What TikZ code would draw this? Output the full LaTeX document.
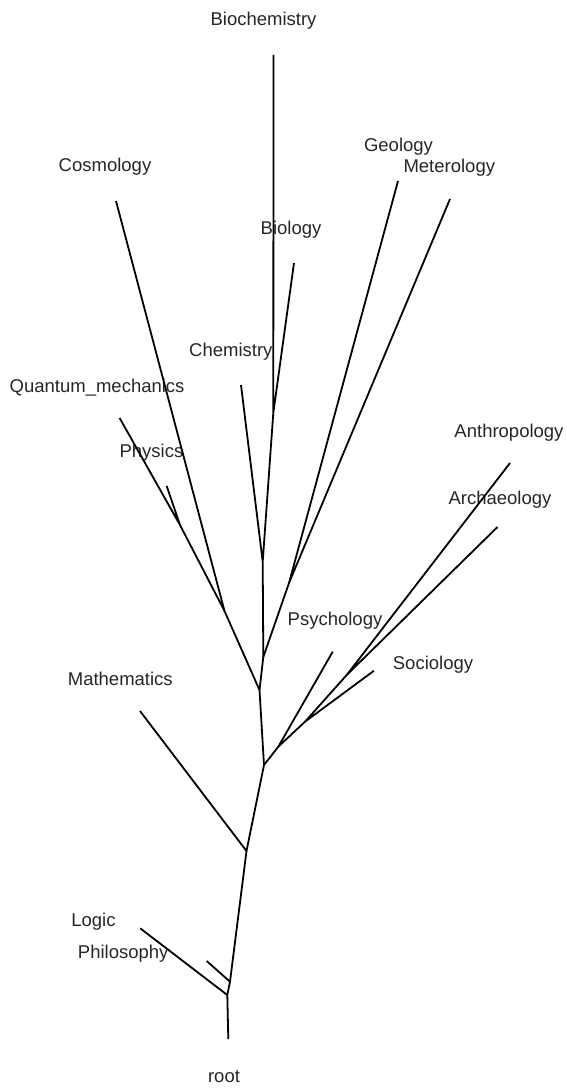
\documentclass[tikz,border=0pt]{standalone}
\usepackage{fontspec}
\setmainfont{Liberation Sans}

\begin{document}
\begin{tikzpicture}[x=1pt,y=-1pt,line width=1.8pt,
  lbl/.style={anchor=base,inner sep=0pt,font=\fontsize{18.5}{22}\selectfont,text=black!85}]
\useasboundingbox (0,0) rectangle (566,1089);
% tips
\coordinate (root) at (228.3,1039);\coordinate (logic) at (140.2,928.3);
\coordinate (philo) at (206.7,961);\coordinate (math) at (140,711);
\coordinate (psych) at (332.7,651.7);\coordinate (socio) at (374,670.7);
\coordinate (anthro) at (510,463);\coordinate (archaeo) at (497.5,527);
\coordinate (cosmo) at (116,201);\coordinate (quantum) at (119.6,418);
\coordinate (phys) at (166.7,486);\coordinate (chem) at (241,385);
\coordinate (biochem) at (273.5,55);\coordinate (bio) at (294,263);
\coordinate (geo) at (398,181);\coordinate (meteo) at (450,199);
% inner nodes
\coordinate (nA) at (227.3,995);\coordinate (nB) at (230,981.7);
\coordinate (nC) at (246.5,851);\coordinate (nD) at (264,765);
\coordinate (nF) at (278.3,746.7);\coordinate (nM) at (305,721.7);
\coordinate (nN) at (346.7,675);\coordinate (nE) at (259.5,690);
\coordinate (nK) at (224.5,611);\coordinate (nL) at (180,525);
\coordinate (nG) at (263.3,657);\coordinate (nH) at (262.7,561.7);
\coordinate (nI) at (273.3,413);\coordinate (nJ) at (289,583);
% labels
\node[lbl] (lroot) at (224,1082) {root};
\node[lbl] (llogic) at (93.5,926.7) {Logic};
\node[lbl] (lphilo) at (123.2,958.7) {Philosophy};
\node[lbl] (lmath) at (120.3,685) {Mathematics};
\node[lbl] (lpsych) at (335,625.7) {Psychology};
\node[lbl] (lsocio) at (433,669) {Sociology};
\node[lbl] (lanthro) at (509,437.7) {Anthropology};
\node[lbl] (larchaeo) at (500,504.3) {Archaeology};
\node[lbl] (lcosmo) at (105,171.7) {Cosmology};
\node[lbl] (lquantum) at (97.1,392.3) {Quantum\_mechanics};
\node[lbl] (lphys) at (151.4,457.7) {Physics};
\node[lbl] (lchem) at (230.8,356.7) {Chemistry};
\node[lbl] (lbiochem) at (263.5,26) {Biochemistry};
\node[lbl] (lbio) at (291,234.3) {Biology};
\node[lbl] (lgeo) at (398.5,151.7) {Geology};
\node[lbl] (lmeteo) at (449.3,172.3) {Meterology};
% branches
\draw (root)--(nA) (nA)--(logic) (nA)--(nB) (nB)--(philo) (nB)--(nC);
\draw (nC)--(math) (nC)--(nD);
\draw (nD)--(nF) (nF)--(psych) (nF)--(nM) (nM)--(socio) (nM)--(nN)
      (nN)--(anthro) (nN)--(archaeo);
\draw (nD)--(nE) (nE)--(nK) (nK)--(cosmo) (nK)--(nL) (nL)--(quantum) (nL)--(phys);
\draw (nE)--(nG) (nG)--(nH) (nH)--(chem) (nH)--(nI) (nI)--(biochem) (nI)--(bio);
\draw (nG)--(nJ) (nJ)--(geo) (nJ)--(meteo);
\end{tikzpicture}
\end{document}
